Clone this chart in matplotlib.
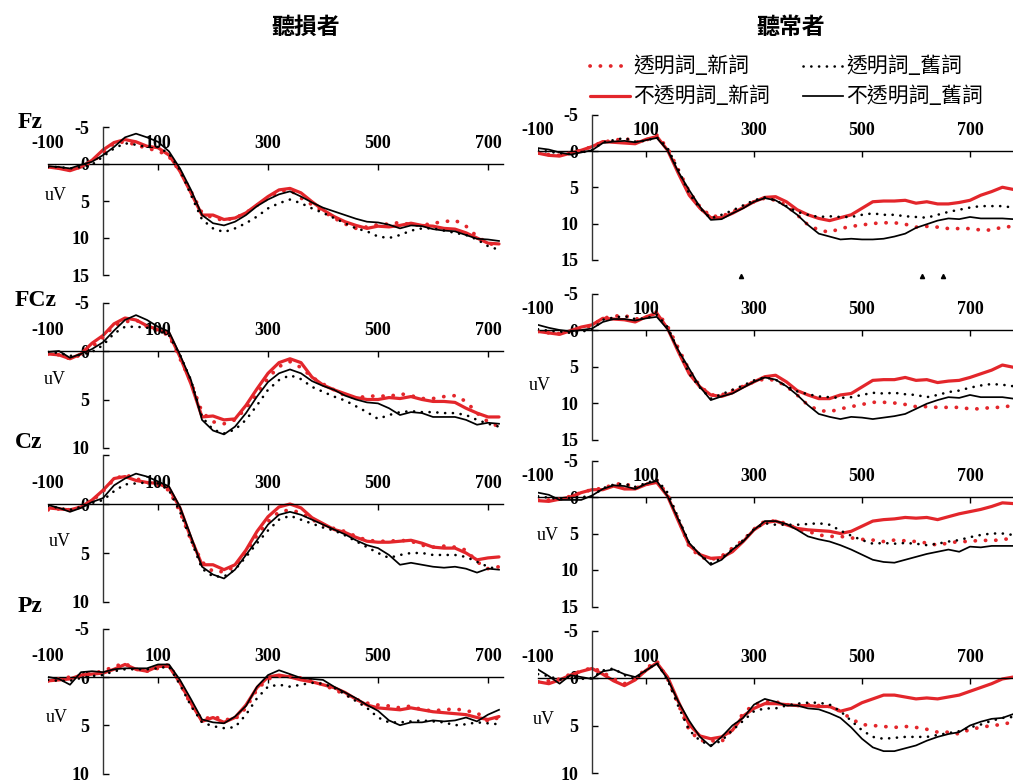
import numpy as np
import matplotlib
matplotlib.use("Agg")
import matplotlib.pyplot as plt
from matplotlib.lines import Line2D

W, H = 1013, 782
SERIF = "Liberation Serif"
CJK = "Noto Sans CJK TC"
RED = "#e3262b"

# ---------------------------------------------------------------- data
groups = ["聽損者", "聽常者"]
electrodes = ["Fz", "FCz", "Cz", "Pz"]
conditions = ["透明詞_新詞", "不透明詞_新詞", "透明詞_舊詞", "不透明詞_舊詞"]

# sampling times (ms)
time_loss = np.arange(-100, 721, 20)
time_normal = np.arange(-100, 781, 20)

x_ticks = [100, 300, 500, 700]
x_labels = [-100, 100, 300, 500, 700]

# amplitudes (uV), hearing-loss group: 透明新, 不透明新, 透明舊, 不透明舊
fz_loss_tn = [0.4, 0.5, 0.8, 0.4, -0.3, -1.4, -2.8, -3.0, -2.6, -2.1,
              -1.8, -1.0, 1.0, 3.7, 6.6, 7.3, 7.6, 7.3, 6.6, 5.6,
              4.6, 3.7, 3.5, 4.6, 5.5, 6.4, 7.3, 8.1, 8.7, 8.5,
              8.2, 8.1, 7.9, 8.2, 8.3, 8.0, 7.8, 7.6, 8.4, 9.8,
              10.7, 11.1]
fz_loss_on = [0.4, 0.6, 0.9, 0.4, -0.5, -1.9, -2.9, -3.3, -3.0, -2.4,
              -2.2, -1.2, 1.0, 3.9, 6.9, 6.9, 7.5, 7.3, 6.6, 5.5,
              4.4, 3.5, 3.3, 3.9, 5.1, 6.2, 7.1, 7.8, 8.3, 8.7,
              8.4, 8.5, 8.3, 8.0, 8.3, 8.4, 8.7, 8.8, 9.3, 10.0,
              10.7, 10.8]
fz_loss_to = [0.4, 0.4, 0.6, 0.4, 0.1, -1.0, -2.1, -2.8, -2.6, -2.3,
              -2.3, -1.4, 0.8, 4.2, 7.5, 8.7, 9.2, 8.7, 8.0, 7.1,
              6.0, 5.3, 4.8, 5.3, 6.0, 6.6, 7.3, 8.0, 8.7, 9.1,
              9.8, 10.0, 9.6, 9.0, 8.7, 8.7, 9.0, 9.3, 9.6, 10.2,
              11.1, 11.6]
fz_loss_oo = [0.3, 0.4, 0.6, 0.1, -0.3, -1.2, -2.3, -3.6, -4.1, -3.6,
              -3.0, -1.7, 0.6, 3.5, 6.9, 8.0, 8.3, 7.8, 6.9, 5.7,
              4.8, 4.1, 3.7, 4.4, 5.2, 5.9, 6.4, 6.9, 7.4, 7.8,
              7.9, 8.2, 8.7, 8.3, 8.4, 8.8, 9.0, 9.1, 9.6, 10.1,
              10.2, 10.4]

fcz_loss_tn = [0.3, 0.4, 0.8, 0.4, -0.4, -1.4, -2.6, -3.0, -3.2, -2.5,
               -2.1, -1.6, 0.8, 3.2, 6.3, 7.3, 7.5, 7.1, 5.9, 4.4,
               2.8, 1.6, 1.1, 1.7, 2.7, 3.4, 4.0, 4.6, 4.8, 4.7,
               4.6, 4.7, 4.4, 4.6, 4.9, 4.9, 4.7, 4.6, 5.2, 6.4,
               7.3, 7.8]
fcz_loss_on = [0.3, 0.4, 0.8, 0.3, -0.8, -1.6, -2.8, -3.4, -3.2, -2.6,
               -2.2, -1.8, 0.6, 3.4, 6.8, 6.7, 7.1, 7.0, 5.6, 3.9,
               2.3, 1.2, 0.8, 1.2, 2.7, 3.5, 4.0, 4.4, 4.8, 5.0,
               5.0, 4.8, 4.9, 4.7, 5.0, 5.2, 5.2, 5.3, 5.9, 6.4,
               6.8, 6.8]
fcz_loss_to = [0.1, 0.2, 0.5, 0.4, 0.1, -0.6, -1.8, -2.5, -2.5, -2.4,
               -2.1, -1.6, 0.4, 3.0, 6.8, 8.1, 8.5, 8.1, 7.1, 5.6,
               4.0, 3.0, 2.5, 2.9, 3.7, 4.2, 4.7, 5.1, 5.7, 6.3,
               7.0, 6.6, 6.3, 6.2, 6.3, 6.3, 6.4, 6.4, 6.6, 7.1,
               7.5, 7.8]
fcz_loss_oo = [0.1, 0.0, 0.7, 0.3, -0.2, -0.9, -2.1, -3.2, -3.7, -3.2,
               -2.5, -2.0, 0.4, 3.0, 7.1, 8.2, 8.6, 7.8, 6.4, 4.7,
               3.2, 2.3, 1.9, 2.3, 3.1, 3.6, 4.0, 4.6, 5.0, 5.3,
               5.4, 5.9, 6.6, 6.3, 6.4, 6.8, 6.8, 6.8, 7.1, 7.6,
               7.4, 7.5]

cz_loss_tn = [0.6, 0.5, 0.6, 0.3, -0.3, -1.3, -2.5, -3.0, -2.6, -2.2,
              -1.9, -1.4, 0.8, 3.7, 5.9, 6.9, 6.9, 6.4, 4.9, 3.2,
              1.8, 0.8, 0.6, 0.9, 1.6, 2.1, 2.5, 2.8, 3.3, 3.7,
              3.8, 3.8, 3.7, 3.8, 4.2, 4.4, 4.3, 4.4, 4.7, 5.9,
              6.6, 6.4]
cz_loss_on = [0.4, 0.5, 0.6, 0.3, -0.4, -1.4, -2.6, -2.8, -2.4, -2.2,
              -2.1, -1.6, 0.4, 3.5, 6.2, 6.2, 6.7, 6.2, 4.7, 2.8,
              1.3, 0.3, 0.0, 0.4, 1.4, 2.0, 2.6, 2.9, 3.4, 3.8,
              3.9, 3.9, 3.8, 3.7, 4.0, 4.4, 4.5, 4.5, 5.0, 5.7,
              5.5, 5.4]
cz_loss_to = [0.2, 0.4, 0.6, 0.3, -0.1, -0.4, -1.3, -2.0, -2.1, -2.2,
              -2.1, -1.4, 0.8, 3.7, 6.6, 7.4, 7.4, 6.7, 5.4, 4.0,
              2.7, 1.6, 1.2, 1.6, 2.0, 2.4, 2.7, 3.2, 3.8, 4.4,
              5.0, 5.5, 5.2, 5.0, 5.0, 5.2, 5.2, 5.2, 5.4, 5.9,
              6.4, 6.7]
cz_loss_oo = [0.1, 0.4, 0.8, 0.4, -0.2, -0.6, -1.9, -2.6, -3.1, -2.8,
              -2.3, -1.8, 0.3, 3.3, 6.4, 7.2, 7.6, 6.7, 5.2, 3.7,
              2.1, 1.1, 0.8, 1.1, 1.6, 2.1, 2.6, 3.1, 3.7, 4.2,
              4.5, 5.2, 6.2, 6.0, 6.2, 6.4, 6.5, 6.4, 6.6, 7.0,
              6.6, 6.7]

pz_loss_tn = [0.4, 0.2, 0.0, -0.1, -0.4, -0.6, -1.1, -1.4, -0.8, -0.6,
              -0.9, -1.3, 0.6, 2.9, 4.4, 4.1, 4.4, 4.4, 3.2, 1.3,
              0.2, -0.1, -0.1, 0.1, 0.4, 0.8, 1.3, 1.8, 2.3, 2.7,
              2.9, 3.0, 3.2, 3.0, 3.4, 3.5, 3.4, 3.3, 3.5, 3.7,
              4.6, 4.2]
pz_loss_on = [0.4, 0.3, 0.2, -0.2, -0.3, -0.4, -0.8, -1.3, -0.8, -0.6,
              -1.1, -1.1, 0.6, 2.7, 4.6, 4.2, 4.7, 4.2, 2.9, 1.1,
              0.0, -0.2, 0.0, 0.3, 0.5, 0.8, 1.1, 1.6, 2.3, 2.9,
              3.2, 3.3, 3.4, 3.2, 3.4, 3.6, 3.7, 3.8, 3.9, 4.2,
              4.4, 4.1]
pz_loss_to = [0.3, 0.4, 0.4, 0.1, -0.1, -0.2, -0.6, -0.8, -0.8, -0.8,
              -0.9, -1.1, 0.8, 3.0, 4.7, 5.1, 5.3, 5.2, 3.9, 2.2,
              1.0, 0.8, 1.0, 0.8, 0.6, 0.7, 1.1, 1.8, 2.5, 3.2,
              4.2, 4.7, 4.7, 4.6, 4.5, 4.6, 4.7, 5.0, 4.9, 4.7,
              4.8, 4.9]
pz_loss_oo = [0.0, 0.2, 0.8, -0.5, -0.6, -0.5, -0.8, -0.9, -0.9, -0.9,
              -1.3, -1.3, 0.3, 2.3, 4.4, 4.7, 4.8, 4.1, 3.0, 1.0,
              -0.2, -0.7, -0.3, 0.1, 0.2, 0.3, 1.0, 1.6, 2.2, 2.9,
              3.5, 4.5, 5.0, 4.7, 4.7, 4.5, 4.6, 4.5, 4.2, 4.6,
              3.9, 3.4]

# amplitudes (uV), normal-hearing group
fz_normal_tn = [0.3, 0.5, 0.6, 0.3, -0.1, -0.6, -1.3, -1.4, -1.8, -1.2,
                -1.5, -2.2, -0.4, 2.6, 5.6, 7.7, 9.0, 9.0, 8.4, 7.7,
                7.0, 6.5, 6.8, 7.5, 8.8, 10.2, 10.9, 11.2, 10.7, 10.4,
                10.2, 10.0, 9.9, 9.9, 10.1, 10.5, 10.4, 10.5, 10.7, 10.7,
                10.7, 10.9, 10.9, 10.5, 10.4]
fz_normal_on = [0.3, 0.6, 0.7, 0.3, -0.1, -0.6, -1.3, -1.2, -1.1, -1.0,
                -1.6, -2.0, -0.1, 3.1, 6.1, 7.9, 9.2, 9.2, 8.6, 7.8,
                7.0, 6.4, 6.3, 7.0, 8.1, 8.8, 9.3, 9.6, 9.2, 8.8,
                7.9, 7.0, 6.9, 6.9, 6.8, 7.2, 7.0, 7.3, 7.3, 7.1,
                6.8, 6.1, 5.6, 5.0, 5.3]
fz_normal_to = [-0.1, 0.1, 0.3, 0.4, 0.2, -0.1, -1.2, -1.5, -1.8, -1.3,
                -1.4, -1.9, -0.4, 2.6, 5.9, 7.9, 9.3, 8.8, 8.2, 7.5,
                6.8, 6.4, 6.8, 7.6, 8.4, 8.8, 9.1, 9.0, 9.1, 9.1,
                8.8, 8.6, 8.8, 8.8, 9.0, 9.1, 9.2, 8.8, 8.4, 8.1,
                7.8, 7.6, 7.6, 7.6, 7.8]
fz_normal_oo = [-0.4, -0.2, 0.2, 0.5, 0.2, -0.1, -1.1, -1.3, -1.4, -1.2,
                -1.5, -1.8, -0.1, 2.9, 5.4, 7.7, 9.5, 9.4, 8.6, 7.9,
                7.0, 6.5, 6.8, 7.7, 8.8, 10.2, 11.4, 11.8, 12.2, 12.1,
                12.2, 12.2, 12.1, 11.8, 11.4, 10.6, 10.1, 9.6, 9.3, 9.4,
                9.1, 9.3, 9.3, 9.3, 9.4]

fcz_normal_tn = [0.2, 0.4, 0.5, 0.2, -0.2, -0.6, -1.6, -1.9, -2.0, -1.5,
                 -1.7, -2.5, -0.5, 2.5, 5.5, 7.7, 8.9, 8.9, 8.3, 7.7,
                 7.1, 6.7, 6.9, 7.7, 8.9, 10.3, 11.0, 11.2, 10.8, 10.5,
                 10.2, 9.9, 9.9, 10.0, 10.2, 10.5, 10.5, 10.6, 10.6, 10.6,
                 10.8, 10.8, 10.6, 10.6, 10.3]
fcz_normal_on = [0.2, 0.4, 0.6, 0.1, -0.4, -0.7, -1.6, -1.5, -1.4, -1.1,
                 -1.8, -2.3, -0.2, 3.0, 6.0, 7.8, 8.9, 9.1, 8.6, 7.8,
                 7.1, 6.4, 6.2, 7.1, 8.3, 8.9, 9.4, 9.4, 8.9, 8.7,
                 7.8, 6.9, 6.8, 6.8, 6.5, 6.9, 6.8, 7.2, 7.0, 6.9,
                 6.5, 6.0, 5.5, 4.8, 5.1]
fcz_normal_to = [-0.1, 0.1, 0.2, 0.4, 0.2, 0.0, -1.4, -1.7, -1.9, -1.5,
                 -1.6, -2.1, -0.4, 2.8, 6.0, 7.9, 9.4, 8.8, 8.2, 7.6,
                 6.9, 6.5, 6.8, 7.7, 8.4, 8.8, 9.1, 9.2, 9.3, 9.2,
                 8.9, 8.6, 8.7, 8.6, 8.8, 8.9, 9.2, 8.9, 8.5, 8.3,
                 7.9, 7.6, 7.4, 7.5, 7.7]
fcz_normal_oo = [-0.7, -0.3, 0.0, 0.2, 0.0, -0.2, -1.1, -1.5, -1.5, -1.3,
                 -1.6, -1.8, -0.1, 2.8, 5.3, 7.8, 9.6, 9.1, 8.7, 7.9,
                 7.1, 6.5, 6.8, 7.7, 8.9, 10.3, 11.5, 11.9, 12.2, 11.9,
                 12.0, 12.2, 12.0, 11.8, 11.5, 10.8, 10.1, 9.6, 9.2, 9.3,
                 8.9, 9.2, 9.2, 9.2, 9.4]

cz_normal_tn = [0.4, 0.4, 0.3, -0.1, -0.6, -1.0, -1.2, -1.7, -1.9, -1.2,
                -1.7, -2.3, -0.3, 3.1, 6.8, 8.2, 8.6, 8.1, 7.0, 5.9,
                4.4, 3.3, 3.3, 3.6, 4.4, 4.7, 5.2, 5.4, 5.4, 5.6,
                5.8, 5.9, 6.1, 5.9, 6.0, 6.1, 6.3, 6.6, 6.3, 6.1,
                6.1, 5.9, 6.0, 5.8, 5.7]
cz_normal_on = [0.5, 0.6, 0.3, 0.0, -0.6, -1.0, -1.0, -1.5, -1.1, -1.1,
                -1.7, -2.0, -0.1, 3.3, 6.6, 7.9, 8.4, 8.3, 7.5, 6.1,
                4.5, 3.5, 3.3, 3.8, 4.3, 4.5, 4.6, 4.7, 5.0, 4.7,
                4.0, 3.3, 3.1, 3.0, 2.8, 2.9, 2.8, 3.1, 2.7, 2.3,
                2.0, 1.7, 1.3, 0.8, 0.9]
cz_normal_to = [-0.1, 0.1, 0.3, 0.1, 0.0, -0.1, -1.2, -1.7, -1.8, -1.4,
                -1.9, -2.4, -0.6, 2.9, 6.3, 7.9, 9.1, 8.4, 7.2, 5.9,
                4.4, 3.6, 3.8, 3.8, 3.8, 3.7, 3.6, 3.8, 4.6, 5.3,
                5.9, 6.4, 6.3, 6.4, 6.3, 6.4, 6.6, 6.4, 6.1, 5.9,
                5.5, 5.2, 5.0, 5.0, 5.2]
cz_normal_oo = [-0.6, -0.3, 0.4, 0.4, 0.4, -0.2, -1.1, -1.6, -1.5, -1.1,
                -1.8, -2.2, -0.1, 3.1, 6.3, 7.9, 9.3, 8.6, 7.2, 6.1,
                4.5, 3.3, 3.3, 3.7, 4.5, 5.4, 5.8, 6.1, 6.6, 7.2,
                7.9, 8.6, 8.9, 9.0, 8.6, 8.2, 7.8, 7.5, 7.2, 7.5,
                6.8, 6.9, 6.7, 6.7, 6.7]

pz_normal_tn = [0.4, 0.3, 0.1, -0.4, -0.7, -1.1, -0.6, 0.1, 0.6, 0.1,
                -1.0, -1.8, 0.1, 2.8, 5.5, 6.6, 6.6, 6.7, 5.4, 3.7,
                2.8, 2.5, 2.5, 2.8, 2.9, 2.8, 2.9, 3.0, 3.5, 4.3,
                4.9, 5.0, 5.1, 5.2, 5.1, 5.2, 5.4, 5.7, 5.7, 5.9,
                5.4, 5.2, 5.0, 4.9, 4.6]
pz_normal_on = [0.4, 0.6, 0.2, -0.3, -0.7, -1.0, -0.4, 0.3, 0.8, 0.2,
                -0.8, -1.6, -0.1, 2.5, 4.9, 6.1, 6.4, 6.2, 5.5, 4.0,
                3.2, 2.7, 2.7, 2.8, 2.9, 2.9, 3.0, 3.0, 3.5, 3.2,
                2.6, 2.2, 1.8, 1.8, 2.0, 2.2, 2.1, 2.2, 2.0, 1.8,
                1.4, 1.0, 0.6, 0.1, -0.1]
pz_normal_to = [-0.4, -0.2, 0.2, -0.2, 0.1, 0.0, -0.8, -1.0, -0.3, 0.1,
                -0.8, -1.6, 0.2, 3.0, 5.5, 6.6, 7.1, 6.6, 5.5, 4.5,
                3.5, 3.2, 3.2, 2.9, 2.7, 2.6, 2.6, 2.8, 3.5, 4.5,
                5.5, 6.2, 6.4, 6.3, 6.2, 6.2, 6.2, 6.0, 5.8, 5.6,
                5.2, 4.9, 4.5, 4.2, 4.1]
pz_normal_oo = [-0.9, -0.2, 0.6, -0.3, -0.1, 0.1, -0.7, -0.9, -0.4, -0.1,
                -0.8, -1.5, 0.1, 2.5, 4.5, 6.2, 7.2, 6.2, 5.0, 4.2,
                2.8, 2.2, 2.5, 2.9, 2.9, 3.2, 3.3, 3.7, 4.2, 5.2,
                6.4, 7.3, 7.7, 7.7, 7.4, 7.1, 6.6, 6.2, 5.9, 5.7,
                5.0, 4.6, 4.3, 4.2, 3.8]

# asterisk marks under the Fz normal-hearing panel (ms)
fz_normal_marks = [276, 611, 650]

# ---------------------------------------------------------------- styles
line_styles = {
    "不透明詞_新詞": dict(color=RED, lw=2.3, solid_capstyle="round", zorder=2),
    "透明詞_新詞": dict(color=RED, lw=2.7, dashes=(0.05, 2.7),
                     dash_capstyle="round", zorder=3),
    "透明詞_舊詞": dict(color="black", lw=1.9, dashes=(0.05, 2.9),
                     dash_capstyle="round", zorder=4),
    "不透明詞_舊詞": dict(color="black", lw=1.25, zorder=5),
}

TICK_FS = 13

# panel geometry in pixels: (x of t=0, px per ms, xlim, y of 0 uV, px per uV, ylim, yticks)
left_geo = (103, 0.55, (-100, 727))
right_geo = (592, 0.54, (-100, 780))
panels = [
    ("Fz", 0, left_geo, 164, 7.40, (-5, 15), [-5, 0, 5, 10, 15],
     time_loss, [fz_loss_tn, fz_loss_on, fz_loss_to, fz_loss_oo]),
    ("Fz", 1, right_geo, 151, 7.25, (-5, 15), [-5, 0, 5, 10, 15],
     time_normal, [fz_normal_tn, fz_normal_on, fz_normal_to, fz_normal_oo]),
    ("FCz", 0, left_geo, 351, 9.70, (-5, 10), [-5, 0, 5, 10],
     time_loss, [fcz_loss_tn, fcz_loss_on, fcz_loss_to, fcz_loss_oo]),
    ("FCz", 1, right_geo, 330, 7.30, (-5, 15), [-5, 0, 5, 10, 15],
     time_normal, [fcz_normal_tn, fcz_normal_on, fcz_normal_to, fcz_normal_oo]),
    ("Cz", 0, left_geo, 504, 9.80, (-5, 10), [-5, 0, 5, 10],
     time_loss, [cz_loss_tn, cz_loss_on, cz_loss_to, cz_loss_oo]),
    ("Cz", 1, right_geo, 497, 7.30, (-5, 15), [-5, 0, 5, 10, 15],
     time_normal, [cz_normal_tn, cz_normal_on, cz_normal_to, cz_normal_oo]),
    ("Pz", 0, left_geo, 677, 9.65, (-5, 10), [-5, 0, 5, 10],
     time_loss, [pz_loss_tn, pz_loss_on, pz_loss_to, pz_loss_oo]),
    ("Pz", 1, right_geo, 678, 9.50, (-5, 10), [-5, 0, 5, 10],
     time_normal, [pz_normal_tn, pz_normal_on, pz_normal_to, pz_normal_oo]),
]

fig = plt.figure(figsize=(W / 100, H / 100), dpi=100)

# overlay in pixel units for titles, legend and side labels
ov = fig.add_axes([0, 0, 1, 1])
ov.set_xlim(0, W)
ov.set_ylim(H, 0)
ov.axis("off")

axes = {}
for name, col, (x0, kx, xlim), y0, ky, ylim, yticks, times, series in panels:
    left_px = x0 + xlim[0] * kx
    right_px = x0 + xlim[1] * kx
    top_px = y0 + ylim[0] * ky
    bottom_px = y0 + ylim[1] * ky
    ax = fig.add_axes([left_px / W, 1 - bottom_px / H,
                       (right_px - left_px) / W, (bottom_px - top_px) / H])
    ax.patch.set_alpha(0)
    ax.set_xlim(*xlim)
    ax.set_ylim(ylim[1], ylim[0])

    for cond, vals in zip(conditions, series):
        ax.plot(times, vals, **line_styles[cond])

    for side in ("top", "right"):
        ax.spines[side].set_visible(False)
    ax.spines["left"].set_position(("data", 0))
    ax.spines["bottom"].set_position(("data", 0))
    ax.spines["left"].set_color("#333333")
    ax.spines["left"].set_linewidth(1.0)
    ax.spines["bottom"].set_linewidth(1.0)

    ax.set_xticks(x_ticks)
    ax.tick_params(axis="x", direction="out", length=4, width=1,
                   labelbottom=False)
    for v in x_labels:
        ax.annotate(str(v), xy=(v, 0), xytext=(0, 14.5),
                    textcoords="offset points", ha="center", va="center",
                    fontsize=TICK_FS, fontweight="bold", family=SERIF)

    ax.set_yticks(yticks)
    labels = [str(v) for v in yticks]
    if name == "Cz" and col == 0:
        labels[0] = ""
    ax.set_yticklabels(labels)
    ax.tick_params(axis="y", direction="in", length=4, width=1, pad=10)
    for lbl in ax.get_yticklabels():
        lbl.set_family(SERIF)
        lbl.set_fontweight("bold")
        lbl.set_fontsize(TICK_FS)
    axes[(name, col)] = ax

# significance marks below the Fz normal-hearing panel
ax_fz_n = axes[("Fz", 1)]
ax_fz_n.plot(fz_normal_marks, [17.2] * len(fz_normal_marks), ls="none",
             marker="^", ms=3, color="black", clip_on=False)

# group titles
ov.text(306, 27, groups[0], ha="center", va="center", fontsize=16.5,
        family=CJK, fontweight="bold")
ov.text(791, 27, groups[1], ha="center", va="center", fontsize=16.5,
        family=CJK, fontweight="bold")

# electrode names
for name, (x, y) in zip(electrodes, [(30, 122), (36, 300), (29, 443), (30, 607)]):
    ov.text(x, y, name, ha="center", va="center", fontsize=17,
            fontweight="bold", family=SERIF)

# unit labels
for x, y in [(56, 196), (55, 380), (60, 541), (57, 717),
             (540, 385), (548, 536), (544, 720)]:
    ov.text(x, y, "uV", ha="center", va="center", fontsize=13, family=SERIF)

# legend
legend_slots = {
    "透明詞_新詞": (590, 66),
    "不透明詞_新詞": (590, 96),
    "透明詞_舊詞": (803, 66),
    "不透明詞_舊詞": (803, 96),
}
for cond in conditions:
    x, y = legend_slots[cond]
    st = dict(line_styles[cond])
    st.pop("zorder")
    ov.add_line(Line2D([x, x + 40], [y, y], **st))
    ov.text(x + 43, y, cond, ha="left", va="center", fontsize=15, family=CJK)

fig.savefig("out.png", dpi=100)
